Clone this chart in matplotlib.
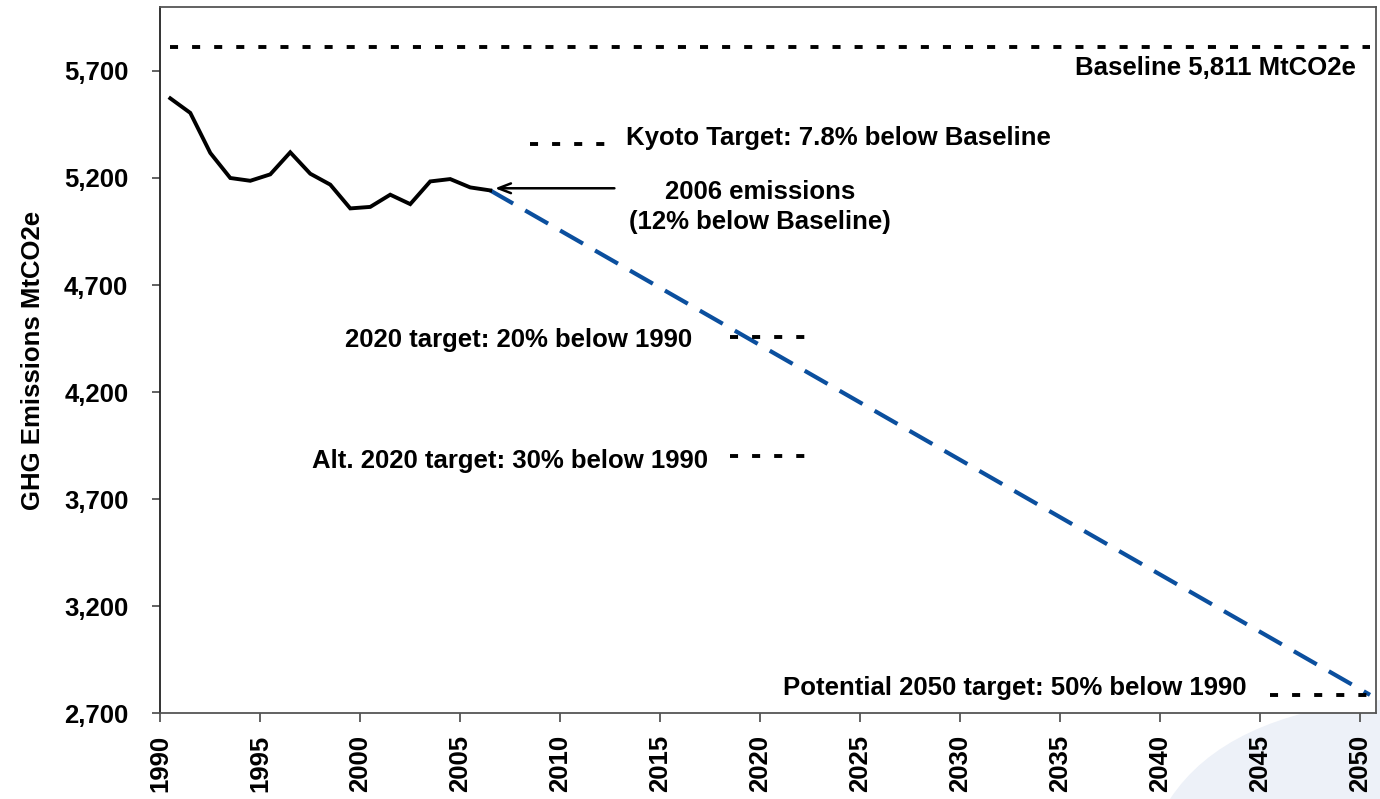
import matplotlib
matplotlib.use("Agg")
import matplotlib.pyplot as plt
from matplotlib.patches import PathPatch
from matplotlib.path import Path

plt.rcParams['font.family'] = ['Liberation Sans', 'DejaVu Sans']
plt.rcParams['font.weight'] = 'bold'
plt.rcParams['lines.scale_dashes'] = False

# ---- data ----
years = list(range(1990, 2007))
emissions = [5572, 5504, 5317, 5200, 5187, 5217, 5320, 5220, 5169, 5058,
             5065, 5122, 5078, 5184, 5195, 5156, 5142]
proj_years = [2006, 2050]
proj_values = [5142, 2786]

baseline = 5811
kyoto = 5358
target_2020 = 4458
alt_target_2020 = 3900
target_2050 = 2786

kyoto_span = [2008, 2012]
t2020_span = [2018, 2022]
t2050_span = [2045, 2050]
baseline_span = [1990, 2050]

xticks = list(range(1990, 2051, 5))
yticks = [2700, 3200, 3700, 4200, 4700, 5200, 5700]
ytick_labels = ["2,700", "3,200", "3,700", "4,200", "4,700", "5,200", "5,700"]

off = 0.5  # categories drawn at centre of each year slot

W, H = 1380, 799
fig = plt.figure(figsize=(W / 100, H / 100), dpi=100)

# decorative light swoosh in the bottom-right corner
verts = [(1170 / W, 0), (1225 / W, (799 - 715) / H), (1380 / W, (799 - 700) / H),
         (1, 0), (1170 / W, 0)]
codes = [Path.MOVETO, Path.CURVE3, Path.CURVE3, Path.LINETO, Path.CLOSEPOLY]
fig.patches.append(PathPatch(Path(verts, codes), transform=fig.transFigure,
                             facecolor='#edf1f8', edgecolor='none', zorder=-5))

left, right = 160.3 / W, 1376 / W
bottom, top = (H - 713.3) / H, (H - 6.7) / H
ax = fig.add_axes([left, bottom, right - left, top - bottom])
ax.set_zorder(1)
ax.set_facecolor('white')

ax.set_xlim(1990, 2050.8)
ax.set_ylim(2700, 6000)

# historic emissions
ax.plot([y + off for y in years], emissions, color='black', lw=2.8,
        solid_joinstyle='miter', zorder=4)
# projection
ax.plot([y + off for y in proj_years], proj_values, color='#0b4f9e', lw=3.0,
        dashes=(19, 10), zorder=3)

black_dash = dict(color='black', lw=2.8, dashes=(5.8, 10.1), zorder=3)
ax.plot([baseline_span[0] + off, baseline_span[1] + off], [baseline, baseline], **black_dash)
ax.plot([kyoto_span[0] + off, kyoto_span[1] + off], [kyoto, kyoto], **black_dash)
ax.plot([t2020_span[0] + off, t2020_span[1] + off], [target_2020, target_2020], **black_dash)
ax.plot([t2020_span[0] + off, t2020_span[1] + off], [alt_target_2020, alt_target_2020], **black_dash)
ax.plot([t2050_span[0] + off, t2050_span[1] + off], [target_2050, target_2050], **black_dash)

fs = 18.5
ax.text(2049.8, 5715, "Baseline 5,811 MtCO2e", ha='right', va='center', fontsize=fs, fontweight='bold')
ax.text(2013.3, 5388, "Kyoto Target: 7.8% below Baseline", ha='left', va='center', fontsize=fs, fontweight='bold')
ax.text(2020.0, 5065, "2006 emissions\n(12% below Baseline)", ha='center', va='center',
        fontsize=fs, fontweight='bold', linespacing=1.35)
ax.text(2016.6, 4444, "2020 target: 20% below 1990", ha='right', va='center', fontsize=fs, fontweight='bold')
ax.text(2017.4, 3879, "Alt. 2020 target: 30% below 1990", ha='right', va='center', fontsize=fs, fontweight='bold')
ax.text(2044.3, 2818, "Potential 2050 target: 50% below 1990", ha='right', va='center', fontsize=fs, fontweight='bold')

ax.annotate("", xy=(2006.6, 5152), xytext=(2012.85, 5152),
            arrowprops=dict(arrowstyle='->,head_length=0.9,head_width=0.35', color='black', lw=1.8),
            zorder=5)

ax.set_xticks(xticks)
ax.set_xticklabels([str(x) for x in xticks], rotation=90, fontsize=fs, fontweight='bold')
ax.set_yticks(yticks)
ax.set_yticklabels(ytick_labels, fontsize=fs, fontweight='bold')
ax.tick_params(axis='y', direction='out', length=6, width=1.3, color='#555555', pad=17)
ax.tick_params(axis='x', direction='out', length=6.5, width=1.3, color='#555555', pad=9)

ax.set_ylabel("GHG Emissions MtCO2e", fontsize=fs, fontweight='bold', labelpad=14)

for sp in ax.spines.values():
    sp.set_color('#555555')
    sp.set_linewidth(1.3)
ax.spines['left'].set_color('#222222')

fig.savefig("out.png", dpi=100)
